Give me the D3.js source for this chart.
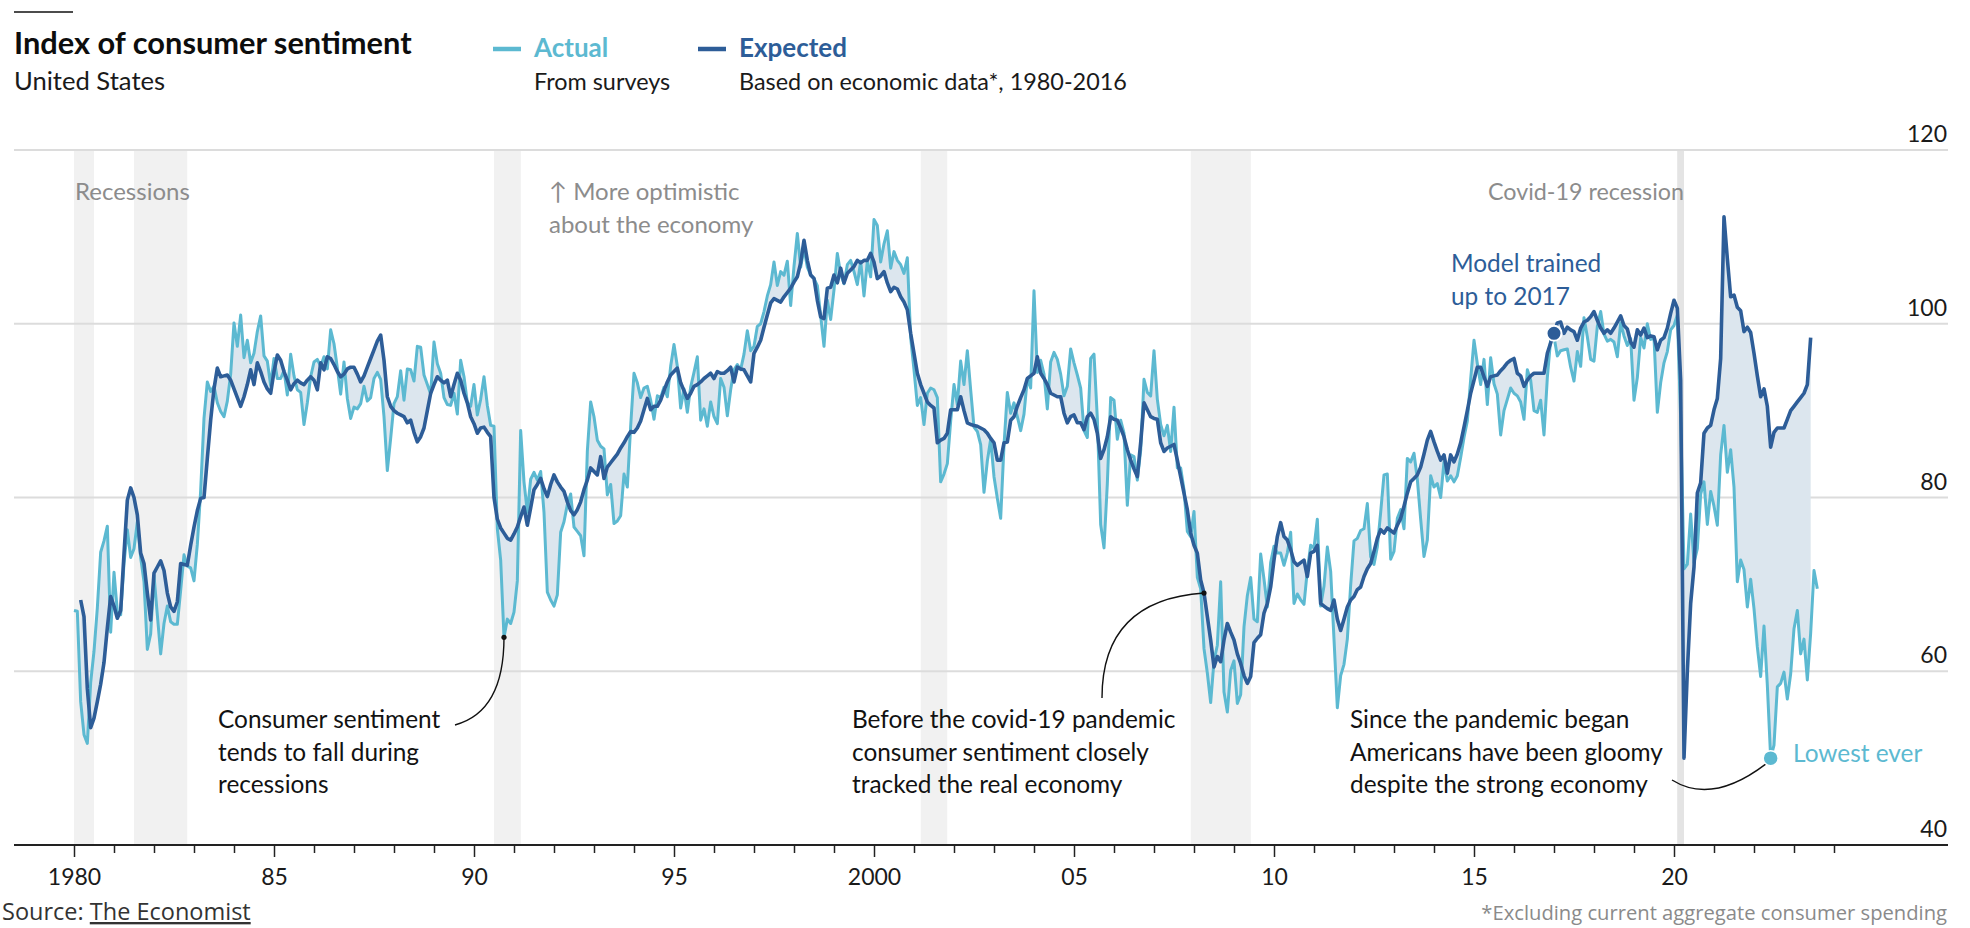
<!DOCTYPE html>
<html lang="en">
<head>
<meta charset="utf-8">
<title>Index of consumer sentiment</title>
<script src="https://d3js.org/d3.v7.min.js"></script>
<style>
  body { margin: 0; background: #fff; }
  svg { display: block; font-family: Lato, "Noto Sans", sans-serif; }
  .grid line { stroke: #dcdcdc; stroke-width: 2; }
  .note { font-size: 24.4px; fill: #121212; }
  .gray { fill: #8c8c8c; font-size: 24px; }
  .axis text { font-size: 23px; fill: #1a1a1a; font-family: Lato, sans-serif; }
  .axis line { stroke: #222; stroke-width: 1.5; }
  .leader { fill: none; stroke: #111; stroke-width: 1.4; }
</style>
</head>
<body>
<script>
// University of Michigan sentiment, monthly from Jan 1980
var actualStart = 1980;
var actual = [
  67.0, 66.9, 56.5, 52.7, 51.7, 58.7, 62.3, 67.3, 73.7, 75.0, 76.7, 64.5,
  71.4, 66.9, 66.5, 72.4, 76.3, 73.1, 74.1, 77.2, 73.1, 70.3, 62.5, 64.3,
  71.0, 66.5, 62.0, 65.5, 67.5, 65.7, 65.4, 65.4, 69.3, 73.4, 72.1, 71.9,
  70.4, 74.6, 80.8, 89.1, 93.3, 92.2, 92.8, 90.9, 89.9, 89.3, 91.1, 94.2,
  100.1, 97.4, 101.0, 96.1, 98.1, 95.5, 96.6, 99.1, 100.9, 96.3, 95.7, 92.9,
  96.0, 93.7, 93.7, 94.6, 91.8, 96.5, 94.0, 92.4, 92.1, 88.4, 90.9, 93.9,
  95.6, 95.9, 95.1, 96.2, 94.8, 99.3, 97.7, 94.9, 91.9, 95.6, 91.4, 89.1,
  90.4, 90.2, 90.8, 92.8, 91.1, 91.5, 93.7, 94.4, 93.6, 89.3, 83.1, 86.8,
  90.8, 91.6, 94.6, 91.2, 94.8, 94.7, 93.4, 97.4, 97.3, 94.1, 93.0, 91.9,
  97.9, 95.4, 94.3, 91.5, 90.7, 90.6, 92.0, 89.6, 95.8, 93.9, 90.9, 90.5,
  93.0, 89.5, 91.3, 93.9, 90.6, 88.3, 88.2, 76.4, 72.8, 63.9, 66.0, 65.5,
  66.8, 70.4, 87.7, 81.8, 78.3, 82.1, 82.9, 82.0, 83.0, 78.3, 69.1, 68.2,
  67.5, 68.8, 76.0, 77.2, 79.2, 80.4, 76.6, 76.1, 75.6, 73.3, 85.3, 91.0,
  89.3, 86.6, 85.9, 85.6, 80.3, 81.5, 77.0, 77.3, 77.9, 82.7, 81.2, 88.2,
  94.3, 93.2, 91.5, 92.6, 92.8, 91.2, 89.0, 91.7, 91.5, 92.7, 91.6, 95.1,
  97.6, 95.1, 90.3, 92.5, 89.8, 92.7, 94.4, 96.2, 88.9, 90.2, 88.2, 91.0,
  89.3, 88.5, 93.7, 92.7, 89.4, 92.4, 94.7, 95.3, 94.7, 96.5, 99.2, 96.9,
  97.4, 99.7, 100.0, 101.4, 103.2, 104.5, 107.1, 104.4, 106.0, 105.6, 107.2, 102.1,
  106.6, 110.4, 106.5, 108.7, 106.5, 105.6, 105.2, 104.4, 100.9, 97.4, 102.7, 100.5,
  103.9, 108.1, 105.7, 104.6, 106.8, 107.3, 106.0, 104.5, 107.2, 103.2, 107.2, 105.4,
  112.0, 111.3, 107.1, 109.2, 110.7, 106.4, 108.3, 107.3, 106.8, 105.8, 107.6, 98.4,
  94.7, 90.6, 91.5, 88.4, 92.0, 92.6, 92.4, 91.5, 81.8, 82.7, 83.9, 88.8,
  93.0, 90.7, 95.7, 93.0, 96.9, 92.4, 88.1, 87.6, 86.1, 80.6, 84.2, 86.7,
  82.4, 79.9, 77.6, 86.0, 92.1, 89.7, 90.9, 89.3, 87.7, 89.6, 93.7, 92.6,
  103.8, 94.4, 95.8, 94.2, 90.2, 95.6, 96.7, 95.9, 94.2, 91.7, 92.8, 97.1,
  95.5, 94.1, 92.6, 87.7, 86.9, 96.0, 96.5, 89.1, 76.9, 74.2, 81.6, 91.5,
  91.2, 86.7, 88.9, 87.4, 79.1, 84.9, 84.7, 82.0, 85.4, 93.6, 92.1, 91.7,
  96.9, 91.3, 88.4, 87.1, 88.3, 85.3, 90.4, 83.4, 83.4, 80.9, 76.1, 75.5,
  78.4, 70.8, 69.5, 62.6, 59.8, 56.4, 61.2, 63.0, 70.3, 57.6, 55.3, 60.1,
  61.2, 56.3, 57.3, 65.1, 68.7, 70.8, 66.0, 65.7, 73.5, 70.6, 67.4, 72.5,
  74.4, 73.6, 73.6, 72.2, 73.6, 76.0, 67.8, 68.9, 68.2, 67.7, 71.6, 74.5,
  74.2, 77.5, 67.5, 69.8, 74.3, 71.5, 63.7, 55.8, 59.5, 60.8, 63.7, 69.9,
  75.0, 75.3, 76.2, 76.4, 79.3, 73.2, 72.3, 74.3, 78.3, 82.6, 82.7, 72.9,
  73.8, 77.6, 78.6, 76.4, 84.5, 84.1, 85.1, 82.1, 77.5, 73.2, 75.1, 82.5,
  81.2, 81.6, 80.0, 84.1, 81.9, 82.5, 81.8, 82.5, 84.6, 86.9, 88.8, 93.6,
  98.1, 95.4, 93.0, 95.9, 90.7, 96.1, 93.1, 91.9, 87.2, 90.0, 91.3, 92.6,
  92.0, 91.7, 91.0, 89.0, 94.7, 93.5, 90.0, 89.8, 91.2, 87.2, 93.8, 98.2,
  98.5, 96.3, 96.9, 97.0, 97.1, 95.0, 93.4, 96.8, 95.1, 100.7, 98.5, 95.9,
  95.7, 99.7, 101.4, 98.8, 98.0, 98.2, 97.9, 96.2, 100.1, 98.6, 97.5, 98.3,
  91.2, 93.8, 98.4, 97.2, 100.0, 98.2, 98.4, 89.8, 93.2, 95.5, 96.8, 99.3,
  99.8, 101.0, 89.1, 71.8, 72.3, 78.1, 72.5, 74.1, 80.4, 81.8, 76.9, 80.7,
  79.0, 76.8, 84.9, 88.3, 82.9, 85.5, 81.2, 70.3, 72.8, 71.7, 67.4, 70.6,
  67.2, 62.8, 59.4, 65.2, 58.4, 50.0, 51.5, 58.2, 58.6, 59.9, 56.8, 59.7,
  64.9, 67.0, 62.0, 63.7, 59.0, 64.4, 71.6, 69.5
];

// model estimate, monthly from Mar 1980
var expectedStart = 1980 + 2 / 12;
var expected = [
  68.2, 66.3, 58.0, 53.5, 54.6, 56.5, 58.5, 61.0, 65.0, 68.6,
  67.5, 66.1, 67.0, 73.5, 79.7, 81.1, 80.0, 78.0, 73.6, 72.4, 69.0, 65.9,
  71.3, 72.0, 72.7, 71.6, 69.0, 67.4, 66.9, 68.0, 72.4, 72.3, 72.2, 74.5,
  76.6, 78.5, 79.9, 80.0, 84.5, 88.9, 92.5, 94.9, 93.9, 94.0, 94.1, 93.5,
  92.5, 91.5, 90.5, 91.6, 93.0, 94.7, 93.0, 95.5, 94.5, 93.3, 92.5, 92.0,
  94.5, 96.4, 95.8, 94.5, 93.5, 92.4, 93.1, 93.5, 93.2, 93.0, 93.5, 93.9,
  93.5, 92.4, 95.5, 94.7, 96.2, 96.0, 95.3, 94.5, 93.9, 94.2, 94.8, 95.0,
  95.0, 94.2, 93.3, 94.0, 95.0, 96.0, 97.0, 98.0, 98.7, 95.8, 91.6, 90.5,
  90.0, 89.7, 89.5, 89.3, 88.6, 88.9, 87.5, 86.4, 87.0, 88.0, 90.0, 92.0,
  93.0, 93.9, 93.5, 93.2, 93.5, 91.6, 93.0, 94.3, 93.5, 92.0, 90.9, 89.3,
  88.5, 87.4, 88.0, 88.1, 87.5, 87.0, 80.0, 77.5, 76.5, 75.9, 75.3, 75.1,
  75.8, 76.6, 77.8, 78.9, 76.8, 78.8, 80.9, 81.5, 82.2, 81.0, 80.1, 81.5,
  82.6, 81.8, 81.2, 80.7, 79.5, 78.5, 78.0, 78.6, 79.5, 80.9, 82.0, 83.4,
  83.0, 82.6, 84.7, 82.2, 83.5, 84.0, 84.5, 85.0, 85.7, 86.3, 87.0, 87.6,
  87.5, 88.0, 88.8, 90.1, 91.4, 90.1, 90.5, 90.5, 91.2, 92.3, 93.3, 94.1,
  94.5, 94.9, 93.2, 92.3, 91.4, 92.0, 92.8, 93.0, 93.3, 93.7, 94.0, 94.3,
  93.7, 94.5, 94.3, 94.3, 94.6, 95.0, 93.3, 95.0, 94.8, 94.7, 94.0, 93.3,
  96.6, 97.3, 98.1, 99.6, 101.0, 102.4, 102.9, 102.7, 102.5, 103.1, 103.6, 104.1,
  104.8, 105.4, 107.0, 109.6, 107.3, 105.6, 105.2, 102.7, 100.8, 100.6, 104.1, 104.2,
  105.6, 104.7, 106.4, 104.7, 105.8, 106.2, 106.6, 107.3, 107.0, 107.3, 107.3, 108.1,
  107.1, 105.2, 105.5, 106.0, 104.7, 103.7, 104.2, 104.0, 103.1, 102.5, 101.6, 98.9,
  96.6, 94.3, 93.0, 92.0, 91.0, 90.6, 90.3, 86.3, 86.6, 86.8, 87.4, 90.1,
  90.1, 90.1, 91.6, 90.0, 88.6, 88.4, 88.3, 88.2, 88.0, 87.8, 87.4, 86.8,
  86.3, 84.3, 84.3, 86.3, 86.4, 88.9, 89.3, 90.5, 91.5, 92.4, 93.7, 94.0,
  94.3, 96.2, 94.3, 93.7, 93.0, 92.0, 91.8, 91.6, 91.6, 89.7, 88.6, 89.3,
  89.5, 88.6, 88.6, 87.8, 89.3, 89.7, 89.0, 87.4, 84.5, 85.5, 87.0, 89.3,
  89.0, 88.9, 88.0, 87.0, 85.5, 84.3, 83.3, 82.4, 86.3, 90.9, 90.1, 89.3,
  89.1, 89.0, 86.3, 85.3, 85.7, 85.9, 86.1, 84.3, 82.4, 80.5, 78.6, 75.9,
  74.5, 73.6, 70.5, 69.0, 66.3, 63.6, 60.5, 61.7, 61.1, 63.6, 65.5, 64.5,
  63.6, 62.0, 60.9, 59.5, 58.6, 59.4, 63.3, 63.8, 64.2, 66.7, 67.8, 69.7,
  72.8, 75.5, 77.1, 75.5, 75.1, 74.0, 72.6, 72.2, 72.5, 72.8, 70.9, 73.6,
  73.8, 74.5, 67.8, 67.5, 67.2, 67.0, 68.2, 66.0, 64.7, 66.0, 67.4, 68.2,
  68.6, 69.4, 69.7, 70.9, 71.8, 72.4, 73.8, 75.3, 76.3, 75.9, 76.5, 76.2,
  75.9, 76.8, 77.6, 79.0, 80.5, 81.8, 82.2, 82.6, 83.5, 85.0, 86.6, 87.6,
  86.4, 85.3, 84.3, 84.9, 82.8, 84.9, 84.1, 85.0, 86.3, 88.1, 90.0, 92.0,
  93.5, 95.0, 95.0, 93.9, 92.8, 93.9, 94.0, 94.1, 94.6, 95.0, 95.5, 95.8,
  96.0, 94.3, 94.0, 92.8, 93.5, 94.0, 94.3, 94.3, 94.3, 94.3, 96.6, 97.8,
  98.9, 100.1, 100.2, 98.9, 99.6, 99.3, 99.1, 98.1, 99.5, 100.2, 100.4, 100.8,
  101.4, 100.4, 99.5, 98.9, 99.3, 98.9, 99.5, 100.2, 100.9, 99.8, 99.4, 97.9,
  97.3, 99.3, 98.7, 99.5, 98.4, 98.6, 98.5, 97.0, 98.1, 98.4, 99.5, 101.2,
  102.7, 101.8, 93.5, 50.0, 60.0, 67.8, 72.0, 80.5, 81.7, 87.4, 88.0, 88.3,
  90.1, 91.4, 96.0, 112.3, 107.5, 103.1, 103.3, 101.9, 101.5, 99.1, 99.6, 99.0,
  96.6, 94.0, 91.6, 92.5, 90.5, 85.8, 87.5, 88.0, 88.0, 88.0, 89.0, 90.0,
  90.5, 91.0, 91.5, 92.0, 93.0, 98.4
];

// NBER recessions, decimal years
var recStart = [1980.0, 1981.5, 1990.5, 2001.17, 2007.92, 2020.08];
var recEnd   = [1980.5, 1982.83, 1991.17, 2001.83, 2009.42, 2020.25];

var yTicks = [40, 60, 80, 100, 120];
var xTickYears = d3.range(1980, 2025);
var labelYears = [1980, 1985, 1990, 1995, 2000, 2005, 2010, 2015, 2020];
var labelText = ["1980", "85", "90", "95", "2000", "05", "10", "15", "20"];

var W = 1970, H = 928;
var left = 14, right = 1948;
var colActual = "#5cb9d1", colExpected = "#2d5d98";

var svg = d3.select("body").append("svg")
  .attr("width", W).attr("height", H);

var x = d3.scaleLinear().domain([1980, 2020]).range([74, 1674]);
var y = d3.scaleLinear().domain([40, 120]).range([845, 150]);

var act = actual.map(function(v, i) { return { t: actualStart + i / 12, v: v }; });
var exp = expected.map(function(v, i) { return { t: expectedStart + i / 12, v: v }; });
var offset = Math.round((expectedStart - actualStart) * 12);
var band = exp.map(function(d, i) {
  var a = actual[i + offset];
  return { t: d.t, e: d.v, a: a };
}).filter(function(d) { return d.a !== undefined; });

// recession shading
svg.append("g").selectAll("rect")
  .data(recStart).enter().append("rect")
  .attr("x", function(d) { return x(d); })
  .attr("width", function(d, i) { return x(recEnd[i]) - x(d); })
  .attr("y", y(120))
  .attr("height", y(40) - y(120))
  .attr("fill", function(d, i) { return i == 5 ? "#e4e4e4" : "#f1f1f1"; });

// gridlines
var grid = svg.append("g").attr("class", "grid");
grid.selectAll("line")
  .data(yTicks.filter(function(d) { return d > 40; })).enter().append("line")
  .attr("x1", left).attr("x2", right)
  .attr("y1", function(d) { return y(d); })
  .attr("y2", function(d) { return y(d); });

svg.append("g").selectAll("text")
  .data(yTicks).enter().append("text")
  .attr("x", 1947)
  .attr("y", function(d) { return y(d) - 8; })
  .attr("text-anchor", "end")
  .style("font-size", "23px")
  .style("fill", "#1a1a1a")
  .text(function(d) { return d; });

// gap between the two series
svg.append("path")
  .datum(band)
  .attr("fill", "#dce6ee")
  .attr("d", d3.area()
    .x(function(d) { return x(d.t); })
    .y0(function(d) { return y(d.a); })
    .y1(function(d) { return y(d.e); }));

var line = d3.line()
  .x(function(d) { return x(d.t); })
  .y(function(d) { return y(d.v); });

svg.append("path")
  .datum(act)
  .attr("fill", "none")
  .attr("stroke", colActual)
  .attr("stroke-width", 3)
  .attr("stroke-linejoin", "round")
  .attr("d", line);

svg.append("path")
  .datum(exp)
  .attr("fill", "none")
  .attr("stroke", colExpected)
  .attr("stroke-width", 3.6)
  .attr("stroke-linejoin", "round")
  .attr("d", line);

// x axis
var xAxis = d3.axisBottom(x)
  .tickValues(xTickYears)
  .tickSize(8)
  .tickFormat(function(d) {
    var k = labelYears.indexOf(d);
    return k < 0 ? "" : labelText[k];
  });

var gx = svg.append("g")
  .attr("class", "axis")
  .attr("transform", "translate(0," + y(40) + ")")
  .call(xAxis);
gx.select(".domain").remove();
gx.selectAll(".tick line")
  .attr("y2", function(d) { return labelYears.indexOf(d) < 0 ? 8 : 12; });
gx.selectAll(".tick text").attr("y", 40).attr("dy", null);

svg.append("line")
  .attr("x1", left).attr("x2", right)
  .attr("y1", y(40)).attr("y2", y(40))
  .attr("stroke", "#222").attr("stroke-width", 1.8);

// header
svg.append("line")
  .attr("x1", 14).attr("x2", 73).attr("y1", 12).attr("y2", 12)
  .attr("stroke", "#111").attr("stroke-width", 1.5);

svg.append("text")
  .attr("x", 14).attr("y", 54)
  .style("font-size", "30.8px").style("font-weight", "bold").style("fill", "#0d0d0d")
  .text("Index of consumer sentiment");

svg.append("text")
  .attr("x", 14).attr("y", 90)
  .style("font-size", "25.6px").style("fill", "#1a1a1a")
  .text("United States");

// legend
var legend = [
  { x: 493, name: "Actual", sub: "From surveys", col: colActual },
  { x: 698, name: "Expected", sub: "Based on economic data*, 1980-2016", col: colExpected }
];
var lg = svg.append("g").selectAll("g").data(legend).enter().append("g");
lg.append("line")
  .attr("x1", function(d) { return d.x; })
  .attr("x2", function(d) { return d.x + 28; })
  .attr("y1", 49).attr("y2", 49)
  .attr("stroke", function(d) { return d.col; })
  .attr("stroke-width", 4.5);
lg.append("text")
  .attr("x", function(d) { return d.x + 41; })
  .attr("y", 57)
  .style("font-size", "26px").style("font-weight", "bold")
  .style("fill", function(d) { return d.col; })
  .text(function(d) { return d.name; });
lg.append("text")
  .attr("x", function(d) { return d.x + 41; })
  .attr("y", 90)
  .style("font-size", "23.4px").style("fill", "#1a1a1a")
  .text(function(d) { return d.sub; });

// annotations
function note(xp, yp, lines, cls, anchor) {
  var t = svg.append("text")
    .attr("class", "note " + (cls || ""))
    .attr("text-anchor", anchor || "start");
  lines.forEach(function(s, i) {
    t.append("tspan").attr("x", xp).attr("y", yp + i * 32.5).text(s);
  });
  return t;
}

note(75, 200, ["Recessions"], "gray");
note(549, 200, ["\u2191 More optimistic", "about the economy"], "gray");
note(1684, 200, ["Covid-19 recession"], "gray", "end").style("font-size", "23.3px");
note(1451, 272, ["Model trained", "up to 2017"]).style("fill", colExpected);
note(218, 728, ["Consumer sentiment", "tends to fall during", "recessions"]);
note(852, 728, ["Before the covid-19 pandemic", "consumer sentiment closely", "tracked the real economy"]);
note(1350, 728, ["Since the pandemic began", "Americans have been gloomy", "despite the strong economy"]);

// leader lines to the points they refer to
var pRec = act[actual.indexOf(63.9)];
var pCovid = exp[Math.round((2008.25 - expectedStart) * 12)];
var pLow = act[d3.minIndex(actual)];
var pModel = exp[Math.round((2017 - expectedStart) * 12)];

svg.append("path").attr("class", "leader")
  .attr("d", "M455,725 Q" + x(pRec.t) + ",712 " + x(pRec.t) + "," + y(pRec.v));
svg.append("path").attr("class", "leader")
  .attr("d", "M1102,698 Q1102,600 " + x(pCovid.t) + "," + y(pCovid.v));
svg.append("path").attr("class", "leader")
  .attr("d", "M1672,780 Q1712,805 " + (x(pLow.t) - 5) + "," + (y(pLow.v) + 6));

svg.selectAll(".pin")
  .data([pRec, pCovid]).enter().append("circle")
  .attr("cx", function(d) { return x(d.t); })
  .attr("cy", function(d) { return y(d.v); })
  .attr("r", 2.6).attr("fill", "#111");

svg.append("circle")
  .attr("cx", x(pLow.t)).attr("cy", y(pLow.v)).attr("r", 7.5)
  .attr("fill", colActual).attr("stroke", "#fff").attr("stroke-width", 1.5);
note(1793, 762, ["Lowest ever"]).style("fill", colActual);

svg.append("circle")
  .attr("cx", x(pModel.t)).attr("cy", y(pModel.v)).attr("r", 7.5)
  .attr("fill", colExpected).attr("stroke", "#fff").attr("stroke-width", 2);

// footer
var src = svg.append("text")
  .attr("x", 2).attr("y", 920)
  .style("font-family", "'Open Sans', sans-serif")
  .style("font-size", "23.5px").style("fill", "#333");
src.append("tspan").text("Source: ");
src.append("tspan").style("text-decoration", "underline").text("The Economist");

svg.append("text")
  .attr("x", 1947).attr("y", 920)
  .attr("text-anchor", "end")
  .style("font-family", "'Open Sans', sans-serif")
  .style("font-size", "20.2px").style("fill", "#8a8a8a")
  .text("*Excluding current aggregate consumer spending");
</script>
</body>
</html>
